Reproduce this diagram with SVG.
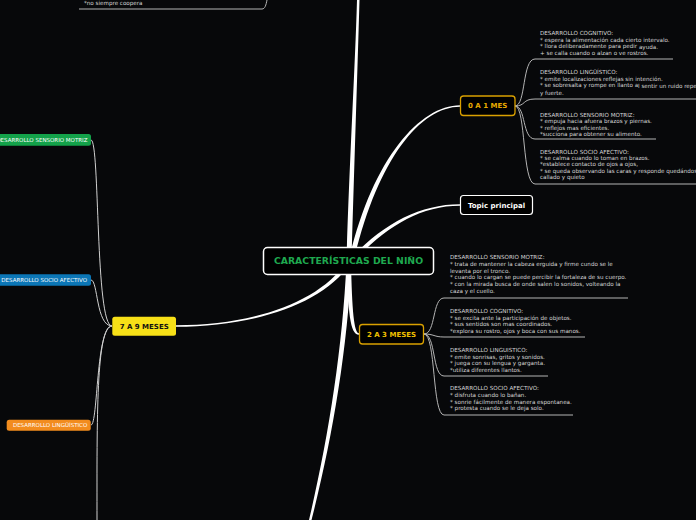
<svg xmlns="http://www.w3.org/2000/svg" width="696" height="520" viewBox="0 0 696 520">
<style>
.bg{fill:#07080a}
.br{fill:#ffffff}
.ln{fill:none;stroke:#b4b4b4;stroke-width:1}
.lw{fill:none;stroke:#d0d0d0;stroke-width:1}
.t{font-family:"DejaVu Sans",sans-serif;font-size:5.6px;fill:#d6d6d6}
.nt{font-family:"DejaVu Sans",sans-serif;font-size:5.5px;fill:#ffffff}
.b{font-family:"DejaVu Sans",sans-serif;font-weight:bold;text-anchor:middle}
</style>
<rect class="bg" x="0" y="0" width="696" height="520"/>
<g id="connectors">
  <path class="br" d="M346.5,261 C349.5,160 355,70 357,0 L359.5,0 C357.5,70 354.5,160 351.5,261 Z"/>
  <path class="br" d="M349.6,257.4 C372.6,159.4 420,105.25 460,105.25 L460,106.75 C420,106.75 377.4,160.6 354.4,258.6 Z"/>
  <path class="br" d="M350.5,258.6 C383.5,223.6 420,204.25 460,204.25 L460,205.75 C420,205.75 386.5,226.4 353.5,261.4 Z"/>
  <path class="br" d="M347,262 C348,312 350,334.75 359,334.75 L359,333.25 C354,333.25 352,310 351,262 Z"/>
  <path class="br" d="M347.3,260.9 C318.3,303.9 250,325.25 176,325.25 L176,326.75 C250,326.75 321.7,306.1 350.7,263.1 Z"/>
  <path class="br" d="M346.5,262 C342.5,350 328,440 309,520 L311.5,520 C332,440 347.5,350 351.5,262 Z"/>
  <path class="lw" d="M112,326 C95,326 100,140 91,140"/>
  <path class="lw" d="M112,326 C96,326 98,280 91,280"/>
  <path class="lw" d="M112,326 C96,326 98,425 91,425"/>
  <path class="lw" d="M112,326 C96,326 97,420 97,520"/>
  <path class="ln" d="M515,106 C526,106 522,59 535,59 L673,59"/>
  <path class="ln" d="M515,106 C526,106 522,99 535,99 L696,99"/>
  <path class="ln" d="M515,106 C526,106 522,139 535,139 L656,139"/>
  <path class="ln" d="M515,106 C526,106 522,184 535,184 L696,184"/>
  <path class="ln" d="M424,334 C436,334 432,298 444,298 L628,298"/>
  <path class="ln" d="M424,334 C434,334 434,337 444,337 L585,337"/>
  <path class="ln" d="M424,334 C436,334 432,376 444,376 L548,376"/>
  <path class="ln" d="M424,334 C436,334 432,415 444,415 L573,415"/>
  <path class="ln" d="M79,9 L262,9 C265,9 266,5 267,0"/>
</g>
<g id="center">
  <rect x="263.5" y="247.5" width="170" height="27" rx="4" fill="#000" stroke="#fff" stroke-width="1.5"/>
  <text class="b" x="348.5" y="264.4" font-size="9.3" fill="#1fa84f">CARACTERÍSTICAS DEL NIÑO</text>
</g>
<g id="n0a1">
  <rect x="460.5" y="96" width="54.5" height="19.5" rx="3" fill="#000" stroke="#d9a000" stroke-width="1.3"/>
  <text class="b" x="487.7" y="108.4" font-size="7" fill="#e8aa00">0 A 1 MES</text>
</g>
<g id="topic">
  <rect x="460.5" y="195.5" width="72" height="19" rx="3" fill="#000" stroke="#fff" stroke-width="1.2"/>
  <text class="b" x="496.5" y="207.6" font-size="7" fill="#fff">Topic principal</text>
</g>
<g id="n2a3">
  <rect x="359.5" y="324.5" width="64" height="19.5" rx="3" fill="#000" stroke="#d9a000" stroke-width="1.3"/>
  <text class="b" x="391.5" y="336.8" font-size="7" fill="#f0c000">2 A 3 MESES</text>
</g>
<g id="n7a9">
  <rect x="112.3" y="316.7" width="63.7" height="19" rx="2.5" fill="#f7e017"/>
  <text class="b" x="144.2" y="328.8" font-size="7" fill="#111">7 A 9 MESES</text>
</g>
<g id="sensorio79">
  <rect x="-6" y="134" width="97" height="11.7" rx="2.5" fill="#13a24a"/>
  <text class="nt" x="87.5" y="141.8" text-anchor="end">DESARROLLO SENSORIO MOTRIZ</text>
</g>
<g id="socio79">
  <rect x="-6" y="274.3" width="97" height="11.4" rx="2.5" fill="#0b76b6"/>
  <text class="nt" x="87" y="282" text-anchor="end">DESARROLLO SOCIO AFECTIVO</text>
</g>
<g id="linguistico79">
  <rect x="6.7" y="419.7" width="84" height="11" rx="2.5" fill="#f28c1e"/>
  <text class="nt" x="87.3" y="427.2" text-anchor="end">DESARROLLO LINGÜÍSTICO</text>
</g>
<g id="coopera">
  <text class="t" x="84" y="5">*no siempre coopera</text>
</g>
<g id="cog01">
  <text class="t" x="540" y="35">DESARROLLO COGNITIVO:</text>
  <text class="t" x="540" y="41.7">* espera la alimentación cada cierto intervalo.</text>
  <text class="t" x="540" y="48.2">* llora deliberadamente para pedir <tspan dy="1">ayuda.</tspan></text>
  <text class="t" x="540" y="55.1">+ se calla cuando o alzan o ve rostros.</text>
</g>
<g id="ling01">
  <text class="t" x="540" y="74">DESARROLLO LINGÜÍSTICO:</text>
  <text class="t" x="540" y="80.7">* emite localizaciones reflejas sin intención.</text>
  <text class="t" x="540" y="87">* se sobresalta y rompe en llanto a<tspan dy="1">l sentir un ruido repe</tspan></text>
  <text class="t" x="540" y="94.5">y fuerte.</text>
</g>
<g id="sens01">
  <text class="t" x="540" y="116.8">DESARROLLO SENSORIO MOTRIZ:</text>
  <text class="t" x="540" y="123.4">* empuja hacia afuera brazos y piernas.</text>
  <text class="t" x="540" y="130">* reflejos mas eficientes.</text>
  <text class="t" x="540" y="136.3">*succiona para obtener su alimento.</text>
</g>
<g id="socio01">
  <text class="t" x="540" y="153.5">DESARROLLO SOCIO AFECTIVO:</text>
  <text class="t" x="540" y="160">* se calma cuando lo toman en brazos.</text>
  <text class="t" x="540" y="166.4">*establece contacto de ojos a ojos,</text>
  <text class="t" x="540" y="172.8">* se queda observando las caras y responde quedándos</text>
  <text class="t" x="540" y="179.3">callado y quieto</text>
</g>
<g id="sens23">
  <text class="t" x="450" y="259.2">DESARROLLO SENSORIO MOTRIZ:</text>
  <text class="t" x="450" y="265.9">* trata de mantener la cabeza erguida y firme cundo se le</text>
  <text class="t" x="450" y="272.6">levanta por el tronco.</text>
  <text class="t" x="450" y="279.3">* cuando lo cargan se puede percibir la fortaleza de su cuerpo.</text>
  <text class="t" x="450" y="286">* con la mirada busca de onde salen lo sonidos, volteando la</text>
  <text class="t" x="450" y="292.7">caza y el cuello.</text>
</g>
<g id="cog23">
  <text class="t" x="450" y="312.8">DESARROLLO COGNITIVO:</text>
  <text class="t" x="450" y="319.5">* se excita ante la participación de objetos.</text>
  <text class="t" x="450" y="326">* sus sentidos son mas coordinados.</text>
  <text class="t" x="450" y="332.6">*explora su rostro, ojos y boca con sus manos.</text>
</g>
<g id="ling23">
  <text class="t" x="450" y="351.8">DESARROLLO LINGUISTICO:</text>
  <text class="t" x="450" y="358.5">* emite sonrisas, gritos y sonidos.</text>
  <text class="t" x="450" y="365.2">* juega con su lengua y garganta.</text>
  <text class="t" x="450" y="371.9">*utiliza diferentes llantos.</text>
</g>
<g id="socio23">
  <text class="t" x="450" y="390.2">DESARROLLO SOCIO AFECTIVO:</text>
  <text class="t" x="450" y="396.9">* disfruta cuando lo bañan.</text>
  <text class="t" x="450" y="403.6">* sonrie fácilmente de manera espontanea.</text>
  <text class="t" x="450" y="410.3">* protesta cuando se le deja solo.</text>
</g>
</svg>
